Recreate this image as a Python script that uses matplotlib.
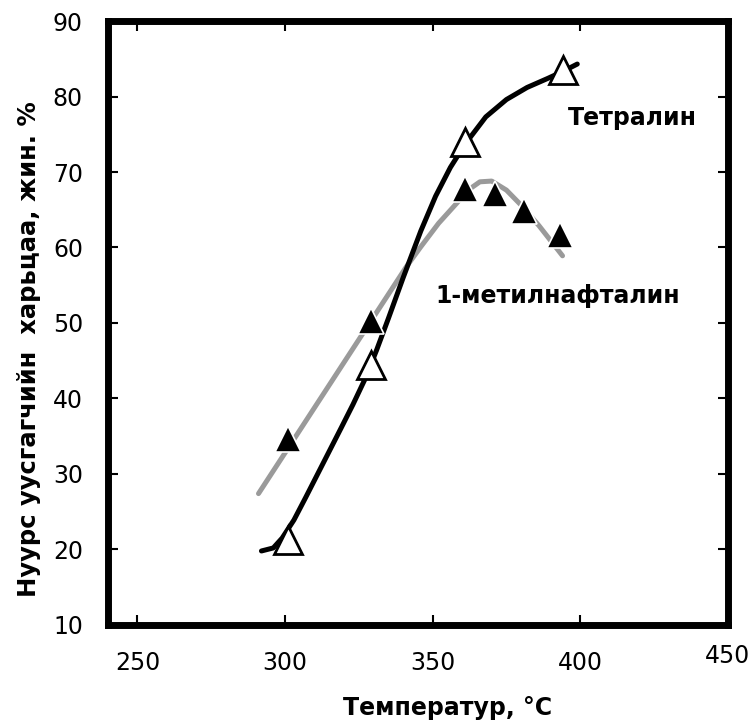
import matplotlib
matplotlib.use("Agg")
import matplotlib.pyplot as plt
import matplotlib.transforms as mtransforms

plt.rcParams['font.family'] = ['DejaVu Sans']

# measured points
tet_t = [301, 329, 361, 394]
tet_y = [21.3, 44.4, 74.0, 83.5]
mn_t = [301, 329, 361, 371, 381, 393]
mn_y = [34.6, 50.3, 67.8, 67.1, 64.8, 61.7]

# fitted trend lines
tet_fit_t = [292, 296, 299, 303, 307, 313, 319, 323, 327, 331, 335, 340, 346, 351,
             356, 361, 368, 375, 382, 389, 394, 399]
tet_fit_y = [19.8, 20.2, 21.5, 23.9, 26.9, 31.5, 36.1, 39.2, 42.5, 46.4, 50.6, 56.0, 62.2, 66.8,
             70.6, 73.7, 77.3, 79.6, 81.2, 82.4, 83.3, 84.3]
mn_fit_t = [291, 304, 313, 319, 324, 329, 336, 341, 346, 352, 358, 362, 366,
            370, 375, 380, 386, 391, 394]
mn_fit_y = [27.4, 35.2, 40.6, 44.2, 47.2, 50.2, 54.4, 57.4, 60.1, 63.2, 65.8, 67.6, 68.7,
            68.8, 67.6, 65.6, 62.9, 60.4, 58.9]

xticks = [250, 300, 350, 400, 450]
yticks = [10, 20, 30, 40, 50, 60, 70, 80, 90]

fig = plt.figure(figsize=(7.55, 7.25), dpi=100)
ax = fig.add_axes([0.143, 0.138, 0.821, 0.833])

ax.plot(mn_fit_t, mn_fit_y, color='#9a9a9a', lw=3.6, solid_capstyle='round',
        solid_joinstyle='round', zorder=2)
ax.plot(tet_fit_t, tet_fit_y, color='black', lw=3.6, solid_capstyle='round',
        solid_joinstyle='round', zorder=3)
ax.plot(mn_t, mn_y, ls='none', marker='^', ms=19, mfc='black', mec='white', mew=1.2, zorder=4)
ax.plot(tet_t, tet_y, ls='none', marker='^', ms=20, mfc='white', mec='black', mew=2, zorder=5)

ax.text(395.9, 76.2, 'Тетралин', fontsize=17, fontweight='bold', ha='left', va='baseline')
ax.text(350.8, 52.6, '1-метилнафталин', fontsize=17, fontweight='bold', ha='left', va='baseline')

ax.set_xlim(240, 450)
ax.set_ylim(10, 90)
ax.set_xticks(xticks)
ax.set_yticks(yticks)
ax.tick_params(direction='in', length=7, width=1.5, labelsize=17, top=True, right=True)
ax.tick_params(axis='x', pad=19)
ax.tick_params(axis='y', pad=18)
for s in ax.spines.values():
    s.set_linewidth(5)

# last x label sits a bit higher
lab = ax.get_xticklabels()[-1]
lab.set_transform(lab.get_transform() + mtransforms.ScaledTranslation(0, 5 / 72, fig.dpi_scale_trans))

ax.set_xlabel('Температур, °C', fontsize=17, fontweight='bold')
ax.xaxis.set_label_coords(0.548, -0.118)
ax.set_ylabel('Нуурс уусгагчийн  харьцаа, жин. %', fontsize=17.5, fontweight='bold')
ax.yaxis.set_label_coords(-0.108, 0.457)

fig.savefig('out.png', dpi=100)
